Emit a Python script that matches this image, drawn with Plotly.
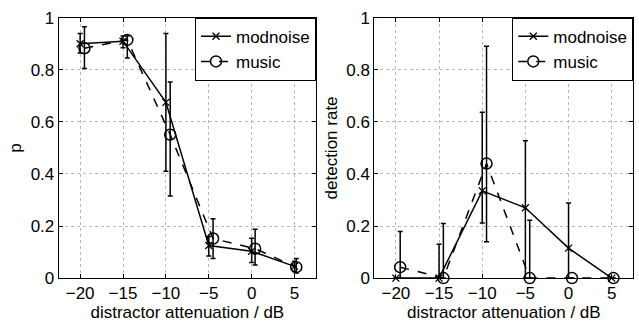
import plotly.graph_objects as go

# ---- data ----
x_mod = [-20, -15, -10, -5, 0, 5]
x_mus = [-19.5, -14.5, -9.5, -4.5, 0.4, 5.2]

# left panel (p)
p_mod = [0.90, 0.91, 0.675, 0.125, 0.103, 0.045]
p_mod_hi = [0.94, 0.93, 0.94, 0.16, 0.153, 0.065]
p_mod_lo = [0.865, 0.885, 0.41, 0.085, 0.06, 0.025]
p_mus = [0.883, 0.915, 0.551, 0.152, 0.113, 0.042]
p_mus_hi = [0.965, 0.93, 0.753, 0.228, 0.188, 0.075]
p_mus_lo = [0.805, 0.845, 0.315, 0.075, 0.05, 0.02]

# right panel (detection rate)
d_mod = [0.0, 0.0, 0.335, 0.27, 0.115, 0.0]
d_mod_hi = [0.0, 0.13, 0.637, 0.528, 0.288, 0.0]
d_mod_lo = [0.0, 0.0, 0.212, 0.0, 0.0, 0.0]
d_mus = [0.042, 0.0, 0.44, 0.0, 0.0, 0.0]
d_mus_hi = [0.179, 0.21, 0.891, 0.222, 0.0, 0.0]
d_mus_lo = [0.0, 0.0, 0.14, 0.0, 0.0, 0.0]

x_ticks = [-20, -15, -10, -5, 0, 5]
y_ticks = [0, 0.2, 0.4, 0.6, 0.8, 1]

FONT = "Liberation Sans, Arial, Helvetica, sans-serif"
FS = 17

def err(y, hi, lo):
    return dict(type="data", symmetric=False,
                array=[h - v for v, h in zip(y, hi)],
                arrayminus=[v - l for v, l in zip(y, lo)],
                color="black", thickness=1.5, width=2.5)

fig = go.Figure()

def add_pair(xa, ya, ymod, hmod, lmod, ymus, hmus, lmus, leg):
    fig.add_trace(go.Scatter(
        x=x_mod, y=ymod, mode="lines+markers", name="modnoise",
        line=dict(color="black", width=1.5),
        marker=dict(symbol="x-thin", size=7, line=dict(color="black", width=1.3)),
        error_y=err(ymod, hmod, lmod), xaxis=xa, yaxis=ya, legend=leg,
        cliponaxis=False))
    fig.add_trace(go.Scatter(
        x=x_mus, y=ymus, mode="lines+markers", name="music",
        line=dict(color="black", width=1.5, dash="dash"),
        marker=dict(symbol="circle-open", size=11, color="black",
                    line=dict(color="black", width=1.5)),
        error_y=err(ymus, hmus, lmus), xaxis=xa, yaxis=ya, legend=leg,
        cliponaxis=False))

add_pair("x", "y", p_mod, p_mod_hi, p_mod_lo, p_mus, p_mus_hi, p_mus_lo, "legend")
add_pair("x2", "y2", d_mod, d_mod_hi, d_mod_lo, d_mus, d_mus_hi, d_mus_lo, "legend2")

W, H = 639, 327
ytop, ybot = 9.3, 285.7
ydom = [1 - ybot / H, 1 - ytop / H]
xdom1 = [58.7 / W, 316 / W]
xdom2 = [374.3 / W, 633.3 / W]

tfont = dict(size=FS, color="black", family=FONT)

axis_common = dict(showline=True, linecolor="black", linewidth=1, mirror="ticks",
                   ticks="inside", ticklen=4, tickcolor="black",
                   showgrid=True, gridcolor="#b8b8b8", griddash="dot", gridwidth=1,
                   zeroline=False, tickfont=tfont)

xaxis_c = dict(axis_common, range=[-22.5, 7.5], tickvals=x_ticks,
               title=dict(text="distractor attenuation / dB", standoff=0, font=tfont))
yaxis_c = dict(axis_common, range=[0, 1], tickvals=y_ticks)

legend_c = dict(bgcolor="white", bordercolor="black", borderwidth=1,
                font=tfont, xanchor="right", yanchor="top", tracegroupgap=0,
                itemwidth=30)

fig.update_layout(
    width=W, height=H, margin=dict(l=0, r=0, t=0, b=0),
    paper_bgcolor="white", plot_bgcolor="white",
    font=dict(family=FONT, size=FS, color="black"),
    xaxis=dict(xaxis_c, domain=xdom1, anchor="y"),
    yaxis=dict(yaxis_c, domain=ydom, anchor="x",
               title=dict(text="p", standoff=4, font=tfont)),
    xaxis2=dict(xaxis_c, domain=xdom2, anchor="y2"),
    yaxis2=dict(yaxis_c, domain=ydom, anchor="x2",
                title=dict(text="detection rate", standoff=4, font=tfont)),
    legend=dict(legend_c, x=xdom1[1], y=ydom[1]),
    legend2=dict(legend_c, x=xdom2[1], y=ydom[1]),
)

fig.write_html("out.html")
